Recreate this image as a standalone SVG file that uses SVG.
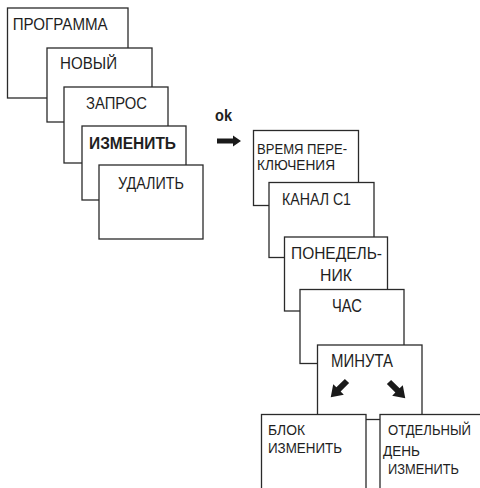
<svg xmlns="http://www.w3.org/2000/svg" xmlns:xlink="http://www.w3.org/1999/xlink" width="480" height="488" viewBox="0 0 480 488">
<style>
.box{fill:#fff;stroke:#2a2a2a;stroke-width:1.3}
text{font-family:"Liberation Sans Narrow","Liberation Sans",Arial,sans-serif;font-size:16.5px;fill:#1e1e1e}
.b{font-weight:bold}
.l{font-size:18px}
.s{font-size:15.5px}
.arr{fill:#1a1a1a}
</style>
<defs>
<path id="ah" d="M0,-3 L12,-3 L12,-7.5 L23,0 L12,7.5 L12,3 L0,3 Z"/>
</defs>
<rect width="480" height="488" fill="#fff"/>
<g id="programma"><rect class="box" x="7.5" y="8" width="120.5" height="90"/><text x="12.7" y="29.5" textLength="95" lengthAdjust="spacingAndGlyphs">ПРОГРАММА</text></g>
<g id="novyi"><rect class="box" x="47" y="48" width="105" height="74"/><text x="60" y="68.5" textLength="57" lengthAdjust="spacingAndGlyphs">НОВЫЙ</text></g>
<g id="zapros"><rect class="box" x="64" y="87" width="104" height="76"/><text x="86" y="108.5" textLength="61" lengthAdjust="spacingAndGlyphs">ЗАПРОС</text></g>
<g id="izmenit"><rect class="box" x="82" y="126" width="104" height="74"/><text class="b" x="89" y="148.5" textLength="87" lengthAdjust="spacingAndGlyphs">ИЗМЕНИТЬ</text></g>
<g id="udalit"><rect class="box" x="99" y="165" width="104" height="74"/><text x="118" y="188.5" textLength="66" lengthAdjust="spacingAndGlyphs">УДАЛИТЬ</text></g>
<g id="ok-label"><text class="b" x="215" y="121" textLength="17" lengthAdjust="spacingAndGlyphs">ok</text></g>
<g id="vremya"><rect class="box" x="253.5" y="130.5" width="105" height="75"/><text class="s" x="257" y="154" textLength="90" lengthAdjust="spacingAndGlyphs">ВРЕМЯ ПЕРЕ-</text><text class="s" x="257" y="170" textLength="78" lengthAdjust="spacingAndGlyphs">КЛЮЧЕНИЯ</text></g>
<g id="kanal"><rect class="box" x="269" y="182.5" width="105" height="75"/><text x="282" y="205" textLength="69" lengthAdjust="spacingAndGlyphs">КАНАЛ С1</text></g>
<g id="ponedelnik"><rect class="box" x="284.5" y="237" width="103" height="74"/><text x="291" y="258.5" textLength="91" lengthAdjust="spacingAndGlyphs">ПОНЕДЕЛЬ-</text><text x="320" y="280.5" textLength="32" lengthAdjust="spacingAndGlyphs">НИК</text></g>
<g id="chas"><rect class="box" x="300" y="289.5" width="104" height="74"/><text class="l" x="332" y="312" textLength="30" lengthAdjust="spacingAndGlyphs">ЧАС</text></g>
<g id="minuta"><rect class="box" x="317.5" y="345" width="104.5" height="74.5"/><text class="l" x="331" y="367" textLength="62" lengthAdjust="spacingAndGlyphs">МИНУТА</text></g>
<g id="blok"><rect class="box" x="261.5" y="414.5" width="104.5" height="80"/><text class="s" x="268" y="435" textLength="37" lengthAdjust="spacingAndGlyphs">БЛОК</text><text class="s" x="268" y="453" textLength="74" lengthAdjust="spacingAndGlyphs">ИЗМЕНИТЬ</text></g>
<g id="otdelnyi"><rect class="box" x="380" y="414.5" width="110" height="80"/><text class="s" x="388" y="435" textLength="83" lengthAdjust="spacingAndGlyphs">ОТДЕЛЬНЫЙ</text><text class="s" x="383" y="456" textLength="37" lengthAdjust="spacingAndGlyphs">ДЕНЬ</text><text class="s" x="388" y="474" textLength="71" lengthAdjust="spacingAndGlyphs">ИЗМЕНИТЬ</text></g>
<g id="connectors" class="arr">
<path d="M217,138.5 L233,138.5 L233,135.5 L241,141 L233,146.5 L233,143.5 L217,143.5 Z"/>
<use xlink:href="#ah" transform="translate(347,381) rotate(135)"/>
<use xlink:href="#ah" transform="translate(389,382) rotate(45)"/>
</g>
</svg>
